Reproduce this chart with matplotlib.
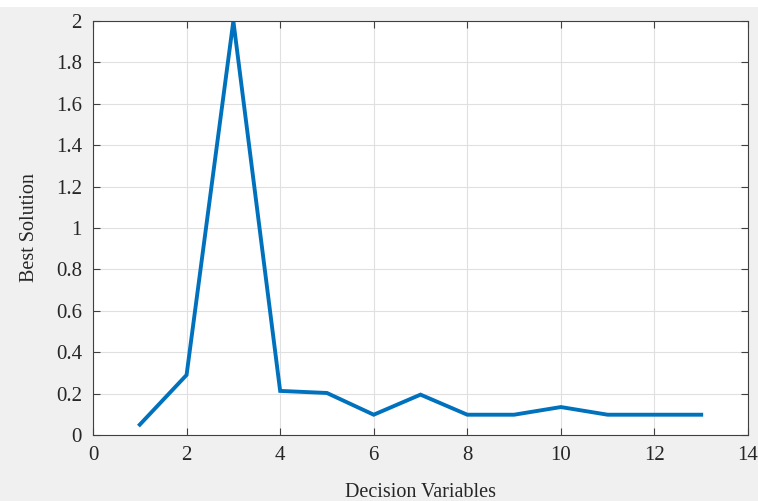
import numpy as np
import matplotlib
matplotlib.use("Agg")
import matplotlib.pyplot as plt
from matplotlib.patches import Rectangle

# =====================================
# DATA
# =====================================
decision_vars = [1, 2, 3, 4, 5, 6, 7, 8, 9, 10, 11, 12, 13]
best_solution = [0.05, 0.29, 2.0, 0.213, 0.203, 0.098, 0.195, 0.098, 0.098, 0.135, 0.098, 0.098, 0.098]
x_ticks = [0, 2, 4, 6, 8, 10, 12, 14]
y_ticks = [0, 0.2, 0.4, 0.6, 0.8, 1, 1.2, 1.4, 1.6, 1.8, 2]
y_tick_labels = ["0", "0.2", "0.4", "0.6", "0.8", "1", "1.2", "1.4", "1.6", "1.8", "2"]

# =====================================
# STYLE
# =====================================
plt.rcParams['font.family'] = ['Liberation Serif', 'DejaVu Serif']

fig = plt.figure(figsize=(7.58, 5.01), dpi=100, facecolor='#f0f0f0')
# white strip at the very top
fig.patches.append(Rectangle((0, 1 - 7 / 501), 1, 7 / 501, transform=fig.transFigure,
                             facecolor='white', edgecolor='none', zorder=-1))
ax = fig.add_axes([93 / 758, 1 - 435 / 501, (748 - 93) / 758, (435 - 21) / 501])

# =====================================
# PLOT
# =====================================
ax.plot(decision_vars, best_solution, color='#0072BD', linewidth=2.8, solid_joinstyle='miter')

ax.set_xlim(0, 14)
ax.set_ylim(0, 2)
ax.set_xticks(x_ticks)
ax.set_yticks(y_ticks)
ax.set_yticklabels(y_tick_labels)
ax.grid(True, color='#e0e0e0', linewidth=0.8)
ax.set_axisbelow(True)

ax.tick_params(direction='in', top=True, right=True, length=5, width=0.8,
               color='#404040', labelsize=15, labelcolor='#262626', pad=8)
for s in ax.spines.values():
    s.set_color('#404040')
    s.set_linewidth(0.8)

ax.set_xlabel("Decision Variables", fontsize=14.5, color='#262626', labelpad=13)
ax.set_ylabel("Best Solution", fontsize=14.5, color='#262626', labelpad=12)

fig.savefig("out.png", dpi=100, facecolor=fig.get_facecolor())
